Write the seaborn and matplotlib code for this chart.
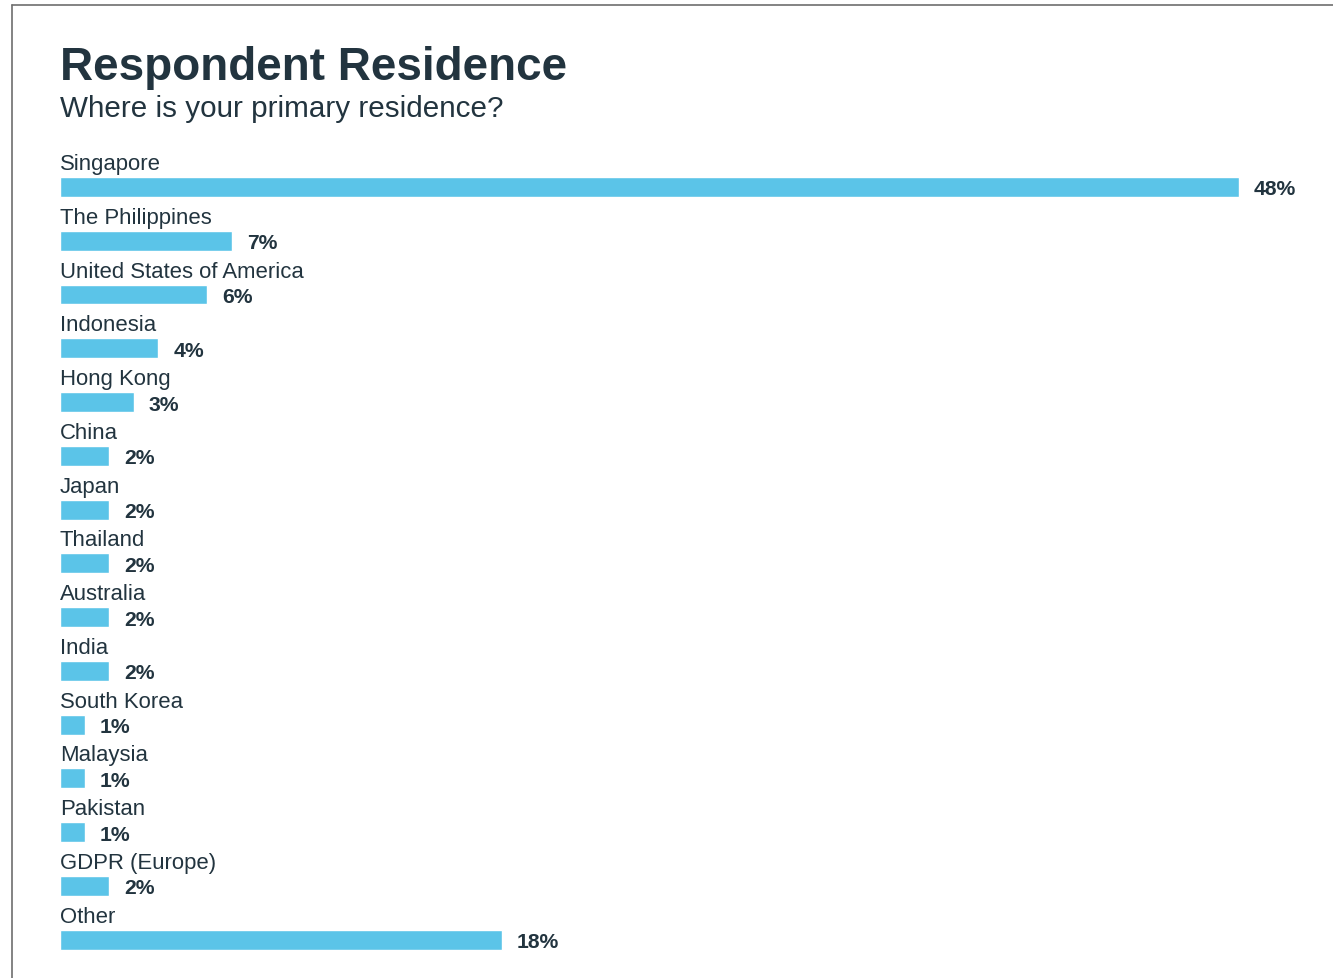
import matplotlib
matplotlib.use("Agg")
import matplotlib.pyplot as plt
from matplotlib.lines import Line2D
import seaborn as sns
import pandas as pd

# Survey results: primary residence of respondents (percent)
countries = [
    "Singapore", "The Philippines", "United States of America", "Indonesia",
    "Hong Kong", "China", "Japan", "Thailand", "Australia", "India",
    "South Korea", "Malaysia", "Pakistan", "GDPR (Europe)", "Other",
]
shares = [48, 7, 6, 4, 3, 2, 2, 2, 2, 2, 1, 1, 1, 2, 18]

title = "Respondent Residence"
subtitle = "Where is your primary residence?"

BAR = "#5BC4E8"
INK = "#22343F"
W, H, DPI = 1333, 979, 100

sns.set_theme(style="white")
plt.rcParams["font.family"] = ["Liberation Sans", "DejaVu Sans"]

fig = plt.figure(figsize=(W / DPI, H / DPI), dpi=DPI)
fig.patch.set_facecolor("white")

# axes box in pixel terms: left edge at x=60, spans rows from y=140 down
px_per_pct = 24.56
row_px = 53.76
first_row_px = 188
ax_top_px, ax_bot_px = 140, 979
ax_left_px = 60
ax = fig.add_axes([ax_left_px / W, 1 - ax_bot_px / H,
                   (W - ax_left_px) / W, (ax_bot_px - ax_top_px) / H])

df = pd.DataFrame({"country": countries, "share": shares})
sns.barplot(data=df, x="share", y="country", orient="h", color=BAR,
            saturation=1, width=0.37, ax=ax, order=countries)

ax.set_xlim(0, (W - ax_left_px) / px_per_pct)
y_top = (ax_top_px - first_row_px) / row_px
y_bot = (ax_bot_px - first_row_px) / row_px
ax.set_ylim(y_bot, y_top)
ax.set_axis_off()

pt = 72 / DPI  # points per pixel
for i, (name, val) in enumerate(zip(countries, shares)):
    ax.annotate(name, xy=(0, i), xytext=(0, 18 * pt), textcoords="offset points",
                ha="left", va="baseline", fontsize=15.9, color=INK)
    ax.annotate(f"{val}%", xy=(val, i), xytext=(15 * pt, -7.5 * pt),
                textcoords="offset points", ha="left", va="baseline",
                fontsize=15.2, fontweight="bold", color=INK)

fig.text(60 / W, 1 - 80 / H, title, ha="left", va="baseline",
         fontsize=33, fontweight="bold", color=INK)
fig.text(60 / W, 1 - 117 / H, subtitle, ha="left", va="baseline",
         fontsize=21.3, color=INK)

# frame lines along the top and left edges
fig.add_artist(Line2D([12 / W, 1.0], [1 - 6 / H, 1 - 6 / H],
                      transform=fig.transFigure, color="#6E6E6E", lw=1.2))
fig.add_artist(Line2D([12 / W, 12 / W], [0.0, 1 - 6 / H],
                      transform=fig.transFigure, color="#6E6E6E", lw=1.2))

fig.savefig("out.png", dpi=DPI, facecolor="white")
